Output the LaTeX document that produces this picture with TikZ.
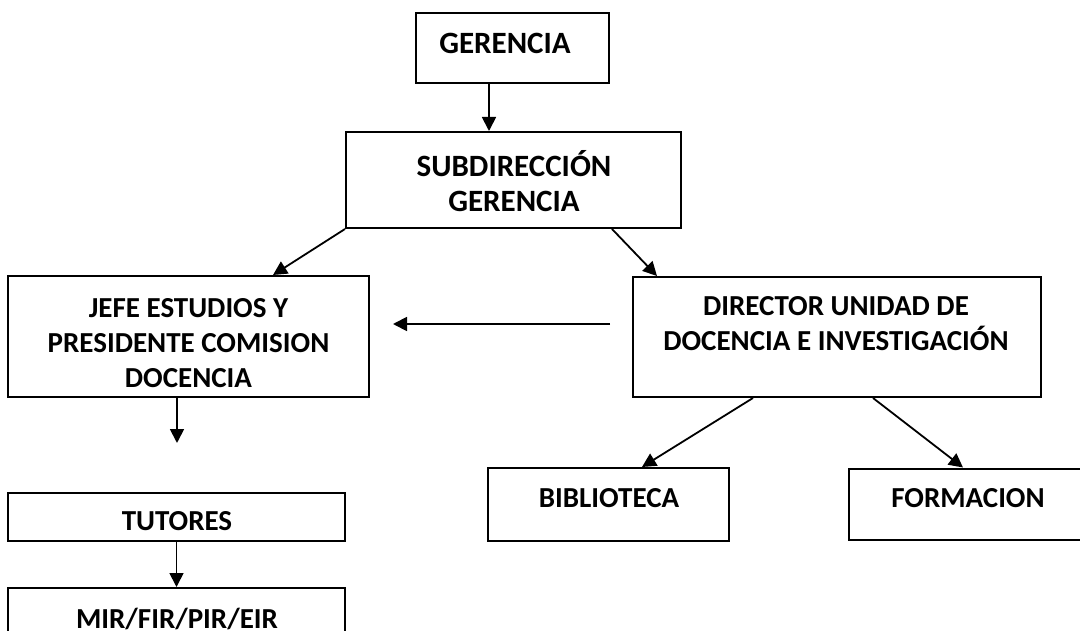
\documentclass[tikz,border=0pt]{standalone}
\usepackage{fontspec}
\setmainfont{Carlito}
\usetikzlibrary{arrows.meta}
\begin{document}
\begin{tikzpicture}[x=1pt,y=-1pt,
  box/.style={draw=black,line width=2pt,fill=white,inner sep=0pt,minimum width=#1},
  lbl/.style={align=center,inner sep=0pt,anchor=base,font=\bfseries\fontsize{29}{35}\selectfont},
  lblbig/.style={align=center,inner sep=0pt,anchor=base,font=\bfseries\fontsize{31}{35}\selectfont},
  arr/.style={line width=1.8pt,-{Triangle[length=14pt,width=14pt]}}]
\fill[white] (0,0) rectangle (1080,631);
\useasboundingbox (0,0) rectangle (1080,631);
% boxes
\node[box=193pt,minimum height=70pt] (ger) at (512.5,48) {};
\node[box=335pt,minimum height=96pt] (sub) at (513.5,180) {};
\node[box=361pt,minimum height=121pt] (jefe) at (188.5,336.5) {};
\node[box=408pt,minimum height=120pt] (dir) at (837,337) {};
\node[box=337pt,minimum height=48pt] (tut) at (176.5,517) {};
\node[box=337pt,minimum height=62pt] (mir) at (176.5,619) {};
\node[box=241pt,minimum height=73pt] (bib) at (608.5,504.5) {};
\node[box=238pt,minimum height=71pt] (form) at (968,504) {};
% texts (anchor base = baseline of the last line)
\node[lblbig] (tger) at (505,54) {GERENCIA};
\node[lblbig] (tsub) at (514,212) {SUBDIRECCIÓN\\GERENCIA};
\node[lbl] (tjefe) at (188.5,387) {JEFE ESTUDIOS Y\\PRESIDENTE COMISION\\DOCENCIA};
\node[lbl] (tdir) at (836,350) {DIRECTOR UNIDAD DE\\DOCENCIA E INVESTIGACIÓN};
\node[lbl] (ttut) at (177,530) {TUTORES};
\node[lbl] (tmir) at (177,628) {MIR/FIR/PIR/EIR};
\node[lbl] (tbib) at (609,507) {BIBLIOTECA};
\node[lbl] (tform) at (968,507) {FORMACION};
% free coordinates
\coordinate (hstart) at (610,324);
\coordinate (hend) at (393,324);
\coordinate (jend) at (177,443);
% connectors
\draw[arr] ([xshift=-23.5pt]ger.south) -- ([xshift=-23.5pt]ger.south |- sub.north);
\draw[arr] (sub.south west) -- ([xshift=84.5pt]jefe.north);
\draw[arr] ([xshift=98.5pt]sub.south) -- ([xshift=-180pt]dir.north);
\draw[arr] (hstart) -- (hend);
\draw[arr] (jefe.south -| jend) -- (jend);
\draw[arr] (tut.south) -- (mir.north);
\draw[arr] ([xshift=-84pt]dir.south) -- ([xshift=33.5pt]bib.north);
\draw[arr] ([xshift=36pt]dir.south) -- ([xshift=-5pt]form.north);
\end{tikzpicture}
\end{document}
